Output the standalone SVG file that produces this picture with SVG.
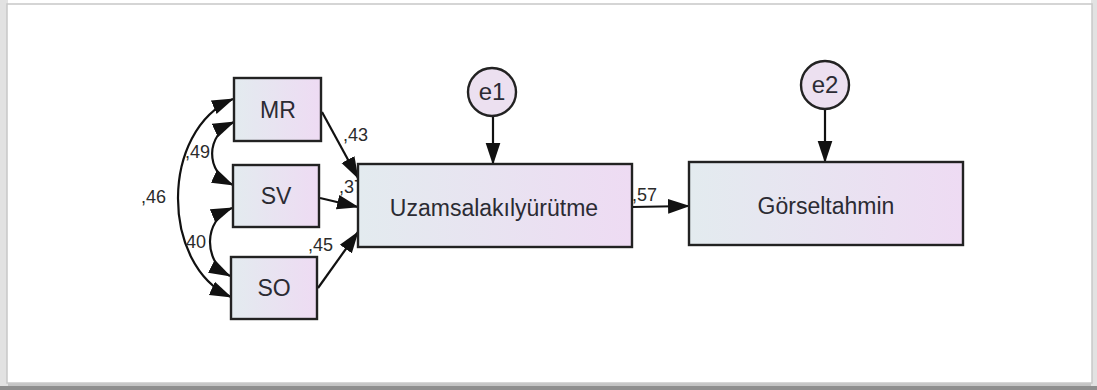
<svg xmlns="http://www.w3.org/2000/svg" width="1097" height="390" viewBox="0 0 1097 390">
<defs>
<linearGradient id="boxg" x1="0" y1="0" x2="1" y2="0">
<stop offset="0" stop-color="#e3ebef"/>
<stop offset="1" stop-color="#eedbf3"/>
</linearGradient>
<marker id="ah" markerUnits="userSpaceOnUse" markerWidth="22" markerHeight="16" viewBox="0 0 21 14" refX="20" refY="7" orient="auto-start-reverse">
<path d="M0,0 L21,7 L0,14 Z" fill="#111"/>
</marker>
<style>
.box{fill:url(#boxg);stroke:#222;stroke-width:2.4}
.circ{fill:#ece0f0;stroke:#222;stroke-width:2.4}
.lbl{font-family:"Liberation Sans",Arial,sans-serif;font-size:23px;fill:#2b2b33;text-anchor:middle}
.elbl{font-family:"Liberation Sans",Arial,sans-serif;font-size:24px;fill:#2b2b33;text-anchor:middle}
.num{font-family:"Liberation Sans",Arial,sans-serif;font-size:18px;fill:#2b2b2b}
.ln{fill:none;stroke:#111;stroke-width:2.2}
</style>
</defs>
<rect x="0" y="0" width="1097" height="390" fill="#ffffff"/>
<rect x="0" y="382" width="1097" height="8" fill="#c4c4c4"/>
<rect x="0" y="386" width="1097" height="4" fill="#8e8e8e"/>
<rect x="0" y="0" width="8" height="386" fill="#e2e2e2"/>
<rect x="1091" y="0" width="6" height="386" fill="#e2e2e2"/>
<rect x="7" y="4" width="1085" height="379" fill="#ffffff" stroke="#c8c8c8" stroke-width="1.5"/>

<g id="connectors">
<path class="ln" d="M322,112 L358,178" marker-end="url(#ah)"/>
<path class="ln" d="M320,198 L358,207" marker-end="url(#ah)"/>
<path class="ln" d="M318,288 L358,232" marker-end="url(#ah)"/>
<path class="ln" d="M632,207 L689,206" marker-end="url(#ah)"/>
<path class="ln" d="M493,116 L493,164" marker-end="url(#ah)"/>
<path class="ln" d="M825,109 L825,162" marker-end="url(#ah)"/>
<path class="ln" d="M233,99 C160,130 160,265 231,297" marker-start="url(#ah)" marker-end="url(#ah)"/>
<path class="ln" d="M234,122 C205,135 205,172 233,185" marker-start="url(#ah)" marker-end="url(#ah)"/>
<path class="ln" d="M232,208 C203,220 203,262 230,276" marker-start="url(#ah)" marker-end="url(#ah)"/>
<text class="num" x="343" y="141">,43</text>
<text class="num" x="339" y="193">,37</text>
<text class="num" x="308" y="251">,45</text>
<text class="num" x="632" y="201">,57</text>
<text class="num" x="185" y="158">,49</text>
<text class="num" x="141" y="203">,46</text>
<text class="num" x="186" y="248">40</text>
</g>

<g id="MR"><rect class="box" x="234" y="78" width="87" height="63"/><text class="lbl" x="278" y="118">MR</text></g>
<g id="SV"><rect class="box" x="233" y="165" width="86" height="62"/><text class="lbl" x="276" y="204">SV</text></g>
<g id="SO"><rect class="box" x="231" y="257" width="86" height="62"/><text class="lbl" x="274" y="296">SO</text></g>
<g id="Uzamsal"><rect class="box" x="358" y="164" width="274" height="83"/><text class="lbl" x="494" y="216">Uzamsalakılyürütme</text></g>
<g id="Gorsel"><rect class="box" x="689" y="162" width="274" height="83"/><text class="lbl" x="826" y="214">Görseltahmin</text></g>
<g id="e1"><circle class="circ" cx="492" cy="92" r="24"/><text class="elbl" x="492" y="100">e1</text></g>
<g id="e2"><circle class="circ" cx="825" cy="85" r="24"/><text class="elbl" x="825" y="93">e2</text></g>
</svg>
